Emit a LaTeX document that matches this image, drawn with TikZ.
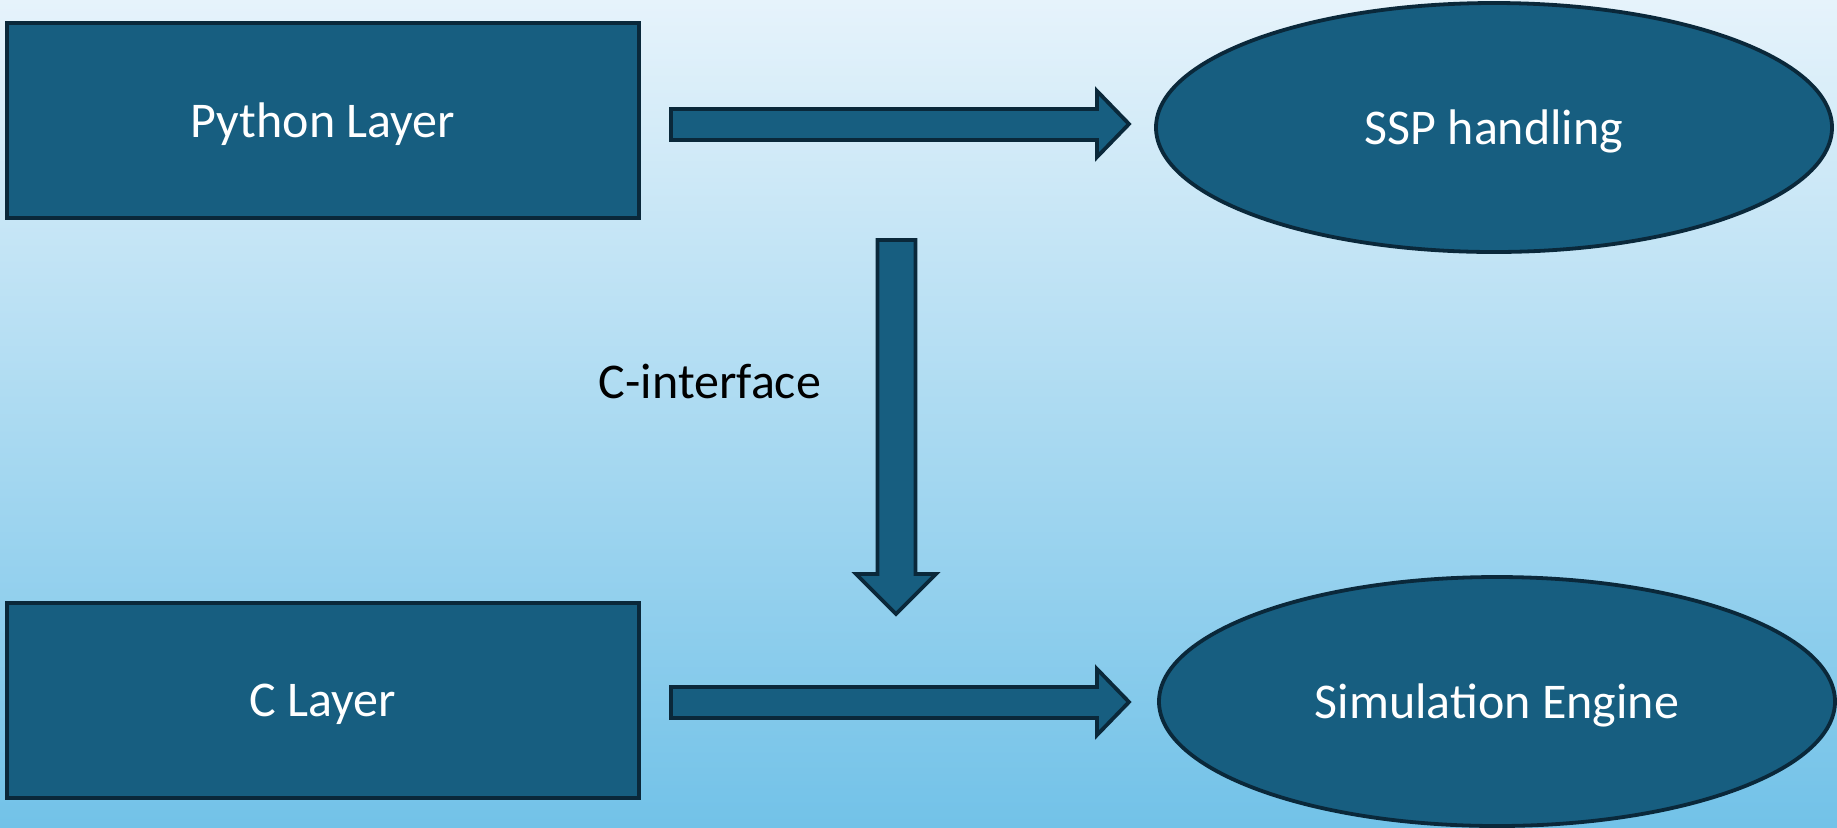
\documentclass[tikz,border=0pt]{standalone}
\usepackage{fontspec}
\setmainfont{Carlito}
\usetikzlibrary{shapes.geometric}
\definecolor{bgtop}{RGB}{230,243,251}
\definecolor{bgbot}{RGB}{114,194,232}
\definecolor{boxfill}{RGB}{23,94,128}
\definecolor{boxline}{RGB}{10,40,58}
\tikzset{
  box/.style={draw=boxline, fill=boxfill, line width=1.9pt, rectangle,
    minimum width=316pt, minimum height=97.5pt, inner sep=0pt, text depth=0pt,
    text=white, font=\fontsize{25}{30}\selectfont},
  oval/.style={draw=boxline, fill=boxfill, line width=1.9pt, ellipse,
    minimum width=338pt, minimum height=124.5pt, inner sep=0pt, text depth=0pt,
    text=white, font=\fontsize{25}{30}\selectfont},
  blockarrow/.style={draw=boxline, fill=boxfill, line width=1.9pt, line join=miter},
  label/.style={text=black, font=\fontsize{25}{30}\selectfont, inner sep=0pt}
}
\begin{document}
\begin{tikzpicture}[x=0.5pt, y=-0.5pt]
\useasboundingbox (0,0) rectangle (1837,827);
\fill[top color=bgtop, bottom color=bgbot] (0,0) rectangle (1837,827);

\node[box] (py) at (323,120.5) {Python Layer};
\node[box] (cl) at (323,700.5) {C Layer};
\node[oval] (ssp) at (1494,127.5) {SSP handling};
\node[oval] (sim) at (1497,701.5) {Simulation Engine};
\node[label] (ci) at (710,381) {C-interface};

% right arrow top
\draw[blockarrow] (671,109) -- (1097,109) -- (1097,91) -- (1129,124) -- (1097,157) -- (1097,140) -- (671,140) -- cycle;
% right arrow bottom
\draw[blockarrow] (671,687) -- (1097,687) -- (1097,669) -- (1129,702) -- (1097,735) -- (1097,718) -- (671,718) -- cycle;
% down arrow
\draw[blockarrow] (877.5,240) -- (915.5,240) -- (915.5,574) -- (936,574) -- (896,614) -- (856,574) -- (877.5,574) -- cycle;
\end{tikzpicture}
\end{document}
